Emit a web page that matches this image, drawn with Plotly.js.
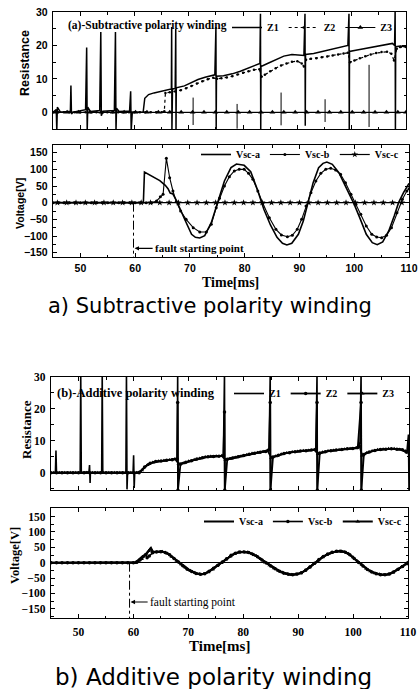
<!DOCTYPE html>
<html><head><meta charset="utf-8">
<script src="https://cdn.plot.ly/plotly-3.0.1.min.js"></script>
<style>html,body{margin:0;padding:0;background:#fff}</style>
</head><body><div id="chart" style="width:418px;height:689px"></div>
<script>
// ---------- DATA (time [ms], value) ----------
const timeTicks = [50, 60, 70, 80, 90, 100, 110];
const resTicks = [0, 10, 20, 30];
const voltTicks = [-150, -100, -50, 0, 50, 100, 150];
const faultA = 59.7;
const faultB = 59.3;

// (a) Subtractive polarity winding - resistance
const z1a = [[45.0,0],[45.6,0.8],[45.7,-5.5],[45.8,1.5],[46.4,0],[48.2,0.3],[48.3,8],[48.4,-0.5],[48.7,0],[51.0,0.8],[51.2,19.4],[51.3,-5.5],[51.4,1.5],[51.9,0.2],[53.6,0.5],[53.8,24],[53.9,-1],[54.2,0.3],[56.3,0.5],[56.5,24],[56.6,-5.5],[56.7,1.2],[57.2,0.2],[59.1,0.4],[59.3,6.3],[59.4,-5.5],[59.6,0],[61.6,0],[61.9,4.2],[62.6,5.3],[63.6,5.8],[64.8,6.3],[66.0,6.7],[66.8,7.0],[66.85,25.5],[66.9,-5.5],[67.0,7.0],[67.5,7.1],[67.6,25],[67.65,-5.5],[67.7,7.3],[69.2,7.9],[70.4,8.8],[71.7,9.8],[73.0,10.5],[74.8,11.2],[75.0,25.5],[75.05,-5],[75.1,10.8],[76.4,10.9],[78.0,11.5],[79.5,12.3],[81.0,13.3],[82.4,14.3],[83.1,14.6],[83.2,29.5],[83.25,-5.5],[83.3,13.7],[84.5,14.6],[86.0,15.8],[87.5,16.8],[89.0,17.3],[90.3,17.2],[91.2,17.0],[91.4,29.5],[91.45,-4],[91.5,17.3],[93.0,17.6],[95.0,18.3],[97.0,19.0],[98.5,19.6],[99.3,20],[99.5,29.5],[99.55,-5.5],[99.6,18.2],[101.0,18.6],[102.6,19.1],[104.5,19.8],[106.2,20.4],[107.5,20.6],[107.9,20],[108.0,31],[108.05,-5.5],[108.1,19.6],[109.0,19.8],[110.0,19.5]];
const z2a = [[45,0],[46,0],[47,0],[48,0],[49,0],[50,0],[51,0],[52,0],[53,0],[54,0],[55,0],[56,0],[57,0],[58,0],[59,0],[60,0],[61,0],[62,0],[63,0],[64,0],[65,0],[65.5,0.3],[65.7,5.8],[66.5,6.0],[67.5,6.2],[68.5,6.6],[69.5,7.2],[70.5,7.9],[71.5,8.6],[72.5,9.3],[73.5,9.9],[74.5,10.3],[75.2,10.0],[76,10.2],[77,10.4],[78,10.8],[79,11.3],[80,11.8],[81,12.3],[82,12.7],[83,12.9],[83.4,10.6],[84,11.2],[85,12.3],[86,13.2],[87,14.0],[88,14.6],[89,15.1],[90,15.3],[90.8,14.6],[91.2,13.7],[91.6,15.7],[92.5,16.0],[93.5,16.2],[94.5,16.5],[95.5,16.7],[96.5,17.0],[97.5,17.3],[98.5,17.6],[99.3,17.8],[99.7,15.0],[100.5,15.5],[101.5,16.2],[102.5,16.8],[103.5,17.3],[104.5,17.7],[105.5,18.0],[106.5,18.1],[107.3,17.5],[107.8,15.5],[108.3,19.0],[109,19.5],[110,19.5]];
const z3a = [[45.5,0],[47.6,0],[49.7,0],[51.8,0],[53.9,0],[56.0,0],[58.1,0],[60.2,0],[62.3,0],[64.4,0],[66.5,0],[68.6,0],[70.7,0],[72.8,0],[74.9,0],[77.0,0],[79.1,0],[81.2,0],[83.3,0],[85.4,0],[87.5,0],[89.6,0],[91.7,0],[93.8,0],[95.9,0],[98.0,0],[100.1,0],[102.2,0],[104.3,0],[106.4,0],[108.5,0],[110,0]];
const z3aSpikes = [[70.8,4.4],[70.8,-3.8],[null,null],[78.9,2.5],[78.9,-4.9],[null,null],[87.0,5.9],[87.0,-3.9],[null,null],[95.1,3.9],[95.1,-2.9],[null,null],[103.2,14.2],[103.2,-4.4]];

// (a) voltage
const vaA = [[45,0],[61.5,0],[61.7,92],[62.5,84],[63.5,75],[64.5,66],[65.5,52],[66.0,42],[66.4,29],[66.9,26],[67.5,8],[68.0,-12],[69.1,-52],[70.3,-95],[71.0,-104],[71.8,-106],[72.7,-99],[73.9,-60],[75.1,5],[76.3,65],[77.5,105],[78.5,116],[79.9,112],[81.1,93],[82.3,40],[83.5,-20],[84.7,-67],[85.9,-104],[86.9,-122],[87.7,-127],[88.6,-122],[89.8,-95],[90.7,-55],[91.5,0],[92.5,60],[93.5,105],[94.3,118],[95.0,122],[96.0,115],[97.2,90],[98.5,45],[100.0,-5],[101.0,-45],[102.2,-95],[103.3,-120],[104.2,-126],[105.2,-118],[106.3,-85],[107.3,-40],[108.1,0],[109.0,30],[110.0,58]];
const vbA = [[45,0],[46,0],[47,0],[48,0],[49,0],[50,0],[51,0],[52,0],[53,0],[54,0],[55,0],[56,0],[57,0],[58,0],[59,0],[60,0],[61,0],[62,0],[63,0],[63.9,5],[64.6,18],[65.1,25],[65.7,133],[66.3,75],[66.9,35],[67.5,3],[68.3,-25],[69.3,-50],[70.6,-75],[71.8,-88],[73.0,-88],[73.9,-65],[74.8,-15],[75.4,13],[76.3,50],[77.2,78],[78.1,95],[79.0,100],[79.9,100],[80.7,88],[81.5,70],[82.4,35],[83.3,-2],[84.5,-45],[85.7,-80],[86.7,-97],[87.8,-102],[88.7,-98],[89.6,-80],[90.4,-50],[91.2,-10],[92.1,30],[93.0,65],[93.9,88],[94.8,100],[95.7,103],[96.6,98],[97.5,85],[98.4,60],[99.4,25],[100.3,-5],[101.2,-35],[102.2,-70],[103.2,-95],[104.1,-103],[105.0,-105],[105.9,-98],[106.8,-75],[107.8,-30],[108.8,10],[109.6,35],[110,42]];
const vcA = [[45.8,0],[47.5,0],[49.2,0],[50.9,0],[52.6,0],[54.3,0],[56.0,0],[57.7,0],[59.4,0],[61.1,0],[62.8,0],[64.5,0],[66.2,0],[67.9,0],[69.6,0],[71.3,0],[73.0,0],[74.7,0],[76.4,0],[78.1,0],[79.8,0],[81.5,0],[83.2,0],[84.9,0],[86.6,0],[88.3,0],[90.0,0],[91.7,0],[93.4,0],[95.1,0],[96.8,0],[98.5,0],[100.2,0],[101.9,0],[103.6,0],[105.3,0],[107.0,0],[108.7,0]];

// (b) Additive polarity winding - resistance
const z1b = [[45.0,0],[45.8,0],[45.9,7.0],[46.0,0],[50.3,0],[50.4,31],[50.5,0],[51.9,0.3],[52.0,2.4],[52.1,-3.2],[52.15,0],[54.2,0],[54.3,31],[54.4,0],[58.6,0],[58.7,31],[58.8,-5.2],[58.9,0],[59.9,0],[60.0,5.5],[60.1,-4.8],[60.2,0],[61.1,0],[61.8,1.5],[62.6,2.6],[63.5,3.3],[64.5,3.6],[65.5,3.8],[66.5,4.0],[67.9,4.3],[68.0,31],[68.05,-5.5],[68.1,2.6],[69.0,3.1],[70.5,3.8],[72.0,4.5],[73.5,5.0],[75.0,5.2],[76.3,5.3],[76.5,31],[76.55,-5.5],[76.6,4.2],[77.5,4.6],[79.0,5.2],[80.5,5.8],[82.0,6.2],[83.5,6.6],[84.6,7.2],[84.8,31],[84.85,-5.5],[84.9,4.8],[86.0,5.4],[87.5,6.1],[89.0,6.5],[90.5,6.8],[92.0,7.0],[93.1,7.3],[93.3,31],[93.35,-5.5],[93.4,6.1],[94.5,6.5],[96.0,6.9],[97.5,7.2],[99.0,7.5],[100.5,7.8],[101.1,9.5],[101.3,31],[101.35,-5.5],[101.4,5.6],[102.5,6.4],[104.0,7.0],[105.5,7.3],[107.0,7.5],[108.5,7.4],[109.6,6.2],[109.9,12],[110.0,-5.5]];
const z2b = [[45,0],[46,0],[47,0],[48,0],[49,0],[50,0],[51,0],[52,0],[53,0],[54,0],[55,0],[56,0],[57,0],[58,0],[59,0],[60,0],[61,0],[62,1.8],[63,3.0],[64,3.5],[65,3.7],[66,3.9],[67,4.1],[67.9,4.3],[68.0,22],[68.05,-5.5],[68.5,2.7],[69.5,3.3],[70.5,3.8],[71.5,4.3],[72.5,4.7],[73.5,5.0],[74.5,5.1],[75.5,5.2],[76.3,5.3],[76.5,19],[76.55,-5.5],[77,4.2],[78,4.6],[79,5.0],[80,5.4],[81,5.8],[82,6.1],[83,6.4],[84,6.7],[84.6,7.2],[84.8,22],[84.85,-5.5],[85.3,4.9],[86.3,5.5],[87.3,6.0],[88.3,6.3],[89.3,6.6],[90.3,6.8],[91.3,6.9],[92.3,7.1],[93.1,7.3],[93.3,22],[93.35,-5.5],[93.8,6.2],[94.8,6.6],[95.8,6.9],[96.8,7.1],[97.8,7.3],[98.8,7.5],[99.8,7.6],[100.7,7.9],[101.3,22],[101.35,-5.5],[101.8,5.7],[102.8,6.5],[103.8,7.0],[104.8,7.3],[105.8,7.4],[106.8,7.5],[107.8,7.4],[108.8,7.2],[109.5,6.5],[110,7]];
const z3b = [[45.5,0],[46.5,0],[47.5,0],[48.5,0],[49.5,0],[50.5,0],[51.5,0],[52.5,0],[53.5,0],[54.5,0],[55.5,0],[56.5,0],[57.5,0],[58.5,0],[59.5,0],[60.5,0],[61.5,0.8],[62.5,2.4],[63.5,3.2],[64.5,3.6],[65.5,3.8],[66.5,4.0],[67.5,4.3],[68.2,2.8],[69,3.0],[70,3.6],[71,4.1],[72,4.5],[73,4.9],[74,5.1],[75,5.2],[76,5.3],[76.7,4.0],[77.5,4.4],[78.5,4.8],[79.5,5.2],[80.5,5.6],[81.5,6.0],[82.5,6.3],[83.5,6.6],[84.3,7.0],[85.0,4.7],[85.8,5.2],[86.8,5.8],[87.8,6.2],[88.8,6.5],[89.8,6.7],[90.8,6.9],[91.8,7.0],[92.8,7.2],[93.5,5.9],[94.3,6.4],[95.3,6.8],[96.3,7.0],[97.3,7.2],[98.3,7.4],[99.3,7.5],[100.3,7.7],[101.0,8.5],[101.5,5.4],[102.3,6.2],[103.3,6.8],[104.3,7.2],[105.3,7.4],[106.3,7.5],[107.3,7.5],[108.3,7.3],[109.3,6.8],[110,7]];

// (b) voltage
const vaB = [[45,0],[60.3,0],[61.5,18],[62.4,29],[63.2,48],[63.6,34],[64.5,36],[65.1,37],[66.4,29],[67.3,15],[68.2,2],[69.1,-12],[70.0,-23],[71.0,-32],[71.8,-37],[72.4,-38],[73.1,-35],[74.0,-25],[74.9,-14],[75.8,-3],[76.7,8],[77.6,21],[78.5,31],[79.5,35],[80.4,35],[81.3,31],[82.2,24],[83.1,13],[84.0,2],[84.8,-8],[85.6,-17],[86.5,-26],[87.3,-33],[88.1,-37],[89.0,-39],[89.8,-38],[90.6,-33],[91.4,-24],[92.2,-13],[93.0,-2],[93.8,10],[94.7,21],[95.6,29],[96.5,35],[97.3,37],[98.1,37],[98.9,32],[99.7,22],[100.5,9],[101.2,-2],[102.0,-14],[102.8,-24],[103.6,-31],[104.5,-37],[105.3,-39],[106.1,-39],[106.9,-35],[107.7,-27],[108.5,-18],[109.3,-9],[110,2]];
const vbB = [[45,0],[46,0],[47,0],[48,0],[49,0],[50,0],[51,0],[52,0],[53,0],[54,0],[55,0],[56,0],[57,0],[58,0],[59,0],[60,0],[60.6,2],[61.2,9],[61.8,20],[62.2,26],[62.5,16],[62.9,22],[63.5,32],[64.2,35],[65.0,36],[65.8,33],[66.6,26],[67.4,14],[68.2,2],[69.0,-10],[69.8,-21],[70.6,-29],[71.4,-35],[72.2,-38],[73.0,-36],[73.8,-28],[74.6,-18],[75.4,-8],[76.2,2],[77.0,13],[77.8,24],[78.6,31],[79.4,35],[80.2,35],[81.0,33],[81.8,27],[82.6,19],[83.4,9],[84.2,-1],[85.0,-11],[85.8,-20],[86.6,-28],[87.4,-34],[88.2,-38],[89.0,-39],[89.8,-37],[90.6,-33],[91.4,-24],[92.2,-13],[93.0,-2],[93.8,10],[94.6,20],[95.4,28],[96.2,34],[97.0,37],[97.8,37],[98.6,34],[99.4,26],[100.2,14],[101.0,1],[101.8,-11],[102.6,-22],[103.4,-30],[104.2,-36],[105.0,-39],[105.8,-39],[106.6,-37],[107.4,-30],[108.2,-21],[109.0,-12],[109.8,-2]];
const vcB = [[45,0],[60.5,0],[61.5,12],[62.3,27],[62.8,38],[63.1,45],[63.5,36],[64.3,35],[65.3,36],[66.2,30],[67.0,19],[67.9,6],[68.7,-5],[69.5,-16],[70.4,-26],[71.2,-33],[72.0,-37],[72.8,-37],[73.6,-31],[74.4,-22],[75.2,-11],[76.0,-1],[76.8,10],[77.6,20],[78.4,29],[79.2,34],[80.0,35],[80.8,34],[81.6,29],[82.4,22],[83.2,12],[84.0,1],[84.8,-8],[85.6,-18],[86.4,-26],[87.2,-32],[88.0,-37],[88.8,-39],[89.6,-38],[90.4,-34],[91.2,-27],[92.0,-16],[92.8,-4],[93.6,7],[94.4,18],[95.2,26],[96.0,32],[96.8,36],[97.6,37],[98.4,35],[99.2,29],[100.0,18],[100.8,5],[101.6,-7],[102.4,-19],[103.2,-28],[104.0,-34],[104.8,-38],[105.6,-40],[106.4,-38],[107.2,-32],[108.0,-24],[108.8,-14],[109.6,-5],[110,1]];

// ---------- helpers ----------
const X = p => p.map(q => q[0]);
const Y = p => p.map(q => q[1]);
const W = 418, H = 689;
const dX = (a, b) => [a / W, b / W];
const dY = (top, bot) => [1 - bot / H, 1 - top / H];
const SANS = 'Liberation Sans, Arial, sans-serif';
const SERIF = 'Liberation Serif, Times New Roman, serif';

function xAxis(dom, anchor, showLabels, font, standoff) {
  return {domain: dom, anchor: anchor, range: [45, 110], tickvals: timeTicks,
    ticks: 'inside', ticklen: 4, tickwidth: 1, tickcolor: '#000',
    showline: true, linecolor: '#000', linewidth: 1.3, mirror: 'ticks',
    showgrid: false, zeroline: false, showticklabels: showLabels, tickfont: font, ticklabelstandoff: standoff,
    minor: {dtick: 5, tick0: 0, ticks: 'inside', ticklen: 2.5, tickcolor: '#000', showgrid: false}};
}
function yAxis(dom, anchor, range, vals, font, minorDt) {
  return {domain: dom, anchor: anchor, range: range, tickvals: vals,
    ticks: 'inside', ticklen: 4, tickwidth: 1, tickcolor: '#000',
    showline: true, linecolor: '#000', linewidth: 1.3, mirror: 'ticks',
    showgrid: false, zeroline: true, zerolinecolor: '#000', zerolinewidth: 1.1,
    tickfont: font, ticklabelstandoff: 2,
    minor: {dtick: minorDt, tick0: 0, ticks: 'inside', ticklen: 2.5, tickcolor: '#000', showgrid: false}};
}

const traces = [
  // plot 1
  {x: X(z1a), y: Y(z1a), xaxis: 'x', yaxis: 'y', name: 'Z1', legend: 'legend', mode: 'lines', line: {color: '#000', width: 1.5}},
  {x: X(z2a), y: Y(z2a), xaxis: 'x', yaxis: 'y', name: 'Z2', legend: 'legend', mode: 'lines+markers', line: {color: '#000', width: 1.2, dash: 'dot'}, marker: {color: '#000', size: 2.5}},
  {x: X(z3a), y: Y(z3a), xaxis: 'x', yaxis: 'y', name: 'Z3', legend: 'legend', mode: 'lines+markers', line: {color: '#000', width: 1}, marker: {color: '#000', size: 5, symbol: 'triangle-up'}},
  {x: X(z3aSpikes), y: Y(z3aSpikes), xaxis: 'x', yaxis: 'y', showlegend: false, mode: 'lines', line: {color: '#000', width: 1}},
  // plot 2
  {x: X(vaA), y: Y(vaA), xaxis: 'x2', yaxis: 'y2', name: 'Vsc-a', legend: 'legend2', mode: 'lines', line: {color: '#000', width: 1.6}},
  {x: X(vbA), y: Y(vbA), xaxis: 'x2', yaxis: 'y2', name: 'Vsc-b', legend: 'legend2', mode: 'lines+markers', line: {color: '#000', width: 1.1}, marker: {color: '#000', size: 3}},
  {x: X(vcA), y: Y(vcA), xaxis: 'x2', yaxis: 'y2', name: 'Vsc-c', legend: 'legend2', mode: 'lines+markers', line: {color: '#000', width: 1.2}, marker: {color: '#000', size: 5, symbol: 'star'}},
  // plot 3
  {x: X(z1b), y: Y(z1b), xaxis: 'x3', yaxis: 'y3', name: 'Z1', legend: 'legend3', mode: 'lines', line: {color: '#000', width: 1.6}},
  {x: X(z2b), y: Y(z2b), xaxis: 'x3', yaxis: 'y3', name: 'Z2', legend: 'legend3', mode: 'lines+markers', line: {color: '#000', width: 1.8}, marker: {color: '#000', size: 3.5}},
  {x: X(z3b), y: Y(z3b), xaxis: 'x3', yaxis: 'y3', name: 'Z3', legend: 'legend3', mode: 'lines+markers', line: {color: '#000', width: 1.8}, marker: {color: '#000', size: 4, symbol: 'triangle-up'}},
  // plot 4
  {x: X(vaB), y: Y(vaB), xaxis: 'x4', yaxis: 'y4', name: 'Vsc-a', legend: 'legend4', mode: 'lines', line: {color: '#000', width: 2}},
  {x: X(vbB), y: Y(vbB), xaxis: 'x4', yaxis: 'y4', name: 'Vsc-b', legend: 'legend4', mode: 'lines+markers', line: {color: '#000', width: 1.6}, marker: {color: '#000', size: 3.5}},
  {x: X(vcB), y: Y(vcB), xaxis: 'x4', yaxis: 'y4', name: 'Vsc-c', legend: 'legend4', mode: 'lines+markers', line: {color: '#000', width: 2}, marker: {color: '#000', size: 4, symbol: 'triangle-up'}}
];

const fSans = {family: SANS, size: 10.5, color: '#000', weight: 'bold'};
const fSerif = {family: SERIF, size: 11.5, color: '#000', weight: 'bold'};
const legendBase = {orientation: 'h', xanchor: 'right', yanchor: 'top', bgcolor: 'rgba(0,0,0,0)', borderwidth: 0,
  font: {family: SERIF, size: 10, color: '#000', weight: 'bold'}, itemwidth: 30, tracegroupgap: 0};

function ann(text, px, py, font, extra) {
  return Object.assign({text: text, xref: 'paper', yref: 'paper', x: px / W, y: 1 - py / H,
    xanchor: 'center', yanchor: 'middle', showarrow: false, font: font}, extra || {});
}

const layout = {
  width: W, height: H, autosize: false,
  margin: {l: 0, r: 0, t: 0, b: 0},
  paper_bgcolor: '#fff', plot_bgcolor: '#fff',
  xaxis: xAxis(dX(53, 406), 'y', false, fSans, 1),
  yaxis: yAxis(dY(12, 129), 'x', [-5, 30], resTicks, fSans, 5),
  xaxis2: xAxis(dX(53, 409), 'y2', true, fSans, 1),
  yaxis2: yAxis(dY(145, 257), 'x2', [-163, 173], voltTicks, fSans, 25),
  xaxis3: xAxis(dX(51, 409), 'y3', false, fSerif, 3),
  yaxis3: yAxis(dY(377, 490), 'x3', [-5.4, 30], resTicks, fSerif, 5),
  xaxis4: xAxis(dX(51, 408), 'y4', true, fSerif, 3),
  yaxis4: yAxis(dY(508, 618), 'x4', [-180, 178], voltTicks, fSerif, 25),
  legend: Object.assign({}, legendBase, {x: 398 / W, y: 1 - 13 / H}),
  legend2: Object.assign({}, legendBase, {x: 404 / W, y: 1 - 140 / H}),
  legend3: Object.assign({}, legendBase, {x: 400 / W, y: 1 - 379 / H}),
  legend4: Object.assign({}, legendBase, {x: 407 / W, y: 1 - 507 / H}),
  shapes: [
    {type: 'line', xref: 'x2', yref: 'y2', x0: faultA, x1: faultA, y0: 0, y1: -163, line: {color: '#000', width: 1, dash: 'dashdot'}},
    {type: 'line', xref: 'x4', yref: 'y4', x0: faultB, x1: faultB, y0: 0, y1: -180, line: {color: '#000', width: 1, dash: 'dashdot'}}
  ],
  annotations: [
    ann('(a)-Subtractive polarity winding', 66, 25, {family: SERIF, size: 11.5, color: '#000', weight: 'bold'}, {xanchor: 'left'}),
    ann('(b)-Additive polarity winding', 55, 393, {family: SERIF, size: 12.5, color: '#000', weight: 'bold'}, {xanchor: 'left'}),
    ann('Resistance', 25, 63, {family: SANS, size: 12.5, color: '#000', weight: 'bold'}, {textangle: -90}),
    ann('Voltage[V]', 20, 204, {family: SANS, size: 10.5, color: '#000', weight: 'bold'}, {textangle: -90}),
    ann('Resistance', 26, 430, {family: SERIF, size: 13, color: '#000', weight: 'bold'}, {textangle: -90}),
    ann('Voltage[V]', 15, 556, {family: SERIF, size: 12.5, color: '#000', weight: 'bold'}, {textangle: -90}),
    ann('Time[ms]', 230, 282.5, {family: SERIF, size: 14, color: '#000', weight: 'bold'}),
    ann('Time[ms]', 219, 646, {family: SERIF, size: 15, color: '#000', weight: 'bold'}),
    {text: 'fault starting point', xref: 'x2', yref: 'y2', x: faultA + 0.2, y: -137, ax: 18, ay: 0, xanchor: 'left', yanchor: 'middle', showarrow: true, arrowhead: 2, arrowsize: 0.8, arrowwidth: 1.1, arrowcolor: '#000', standoff: 0, font: {family: SERIF, size: 11, color: '#000', weight: 'bold'}},
    {text: 'fault starting point', xref: 'x4', yref: 'y4', x: faultB + 0.2, y: -128, ax: 17, ay: 0, xanchor: 'left', yanchor: 'middle', showarrow: true, arrowhead: 2, arrowsize: 0.8, arrowwidth: 1.1, arrowcolor: '#000', standoff: 0, font: {family: SERIF, size: 11.5, color: '#000'}},
    ann('a) Subtractive polarity winding', 210, 306, {family: 'DejaVu Sans, sans-serif', size: 21, color: '#000'}),
    ann('b) Additive polarity winding', 213, 677, {family: 'DejaVu Sans, sans-serif', size: 23, color: '#000'})
  ]
};

Plotly.newPlot('chart', traces, layout, {displayModeBar: false, staticPlot: true});
</script></body></html>
